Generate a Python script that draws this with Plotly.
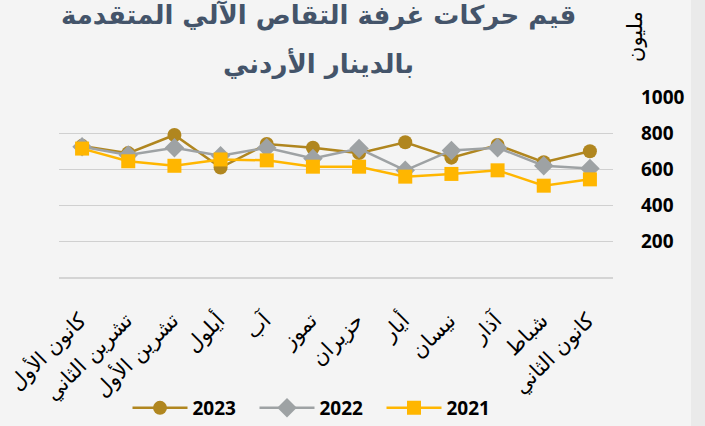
import plotly.graph_objects as go

# months Jan..Dec (axis drawn right-to-left)
months = ["كانون الثاني", "شباط", "آذار", "نيسان", "أيار", "حزيران",
          "تموز", "آب", "أيلول", "تشرين الأول", "تشرين الثاني", "كانون الأول"]

vals_2023 = [700, 640, 735, 665, 750, 690, 720, 740, 610, 790, 690, 730]
vals_2022 = [605, 620, 720, 705, 595, 715, 660, 720, 675, 720, 680, 725]
vals_2021 = [545, 510, 595, 575, 560, 615, 615, 650, 655, 620, 645, 715]

y_ticks = [200, 400, 600, 800, 1000]

FONT = "DejaVu Sans"
NUM_FONT = "Open Sans"

fig = go.Figure()
fig.add_trace(go.Scatter(
    x=months, y=vals_2023, name="2023", mode="lines+markers",
    line=dict(color="#B0861F", width=2.5),
    marker=dict(symbol="circle", size=14, color="#B0861F"),
))
fig.add_trace(go.Scatter(
    x=months, y=vals_2022, name="2022", mode="lines+markers",
    line=dict(color="#9EA2A4", width=2.5),
    marker=dict(symbol="diamond", size=15, color="#9EA2A4"),
))
fig.add_trace(go.Scatter(
    x=months, y=vals_2021, name="2021", mode="lines+markers",
    line=dict(color="#FFB600", width=2.5),
    marker=dict(symbol="square", size=14, color="#FFB600"),
))

fig.update_layout(
    width=705, height=426,
    margin=dict(l=59, r=92, t=97, b=148, autoexpand=False),
    paper_bgcolor="#F4F4F4", plot_bgcolor="#F4F4F4",
    font=dict(family=FONT, color="#000000"),
    showlegend=True,
    legend=dict(orientation="h", xref="container", yref="container",
                x=318 / 705, xanchor="center", y=1 - 408 / 426, yanchor="middle",
                font=dict(size=19, family=NUM_FONT, weight="bold"),
                entrywidth=57, itemwidth=55,
                traceorder="normal", bgcolor="rgba(0,0,0,0)"),
    shapes=[dict(type="rect", xref="paper", yref="paper",
                 x0=(691 - 59) / 554, x1=(705 - 59) / 554, y0=-1, y1=2,
                 fillcolor="#EAEAEA", line=dict(width=0), layer="below")],
    annotations=[
        dict(text="قيم حركات غرفة التقاص الآلي المتقدمة", xref="paper", yref="paper",
             x=(318 - 59) / 554, y=(278 - 15) / 181, xanchor="center", yanchor="middle",
             showarrow=False,
             font=dict(size=26, color="#44546A", family=FONT, weight="bold")),
        dict(text="بالدينار الأردني", xref="paper", yref="paper",
             x=(318 - 59) / 554, y=(278 - 63) / 181, xanchor="center", yanchor="middle",
             showarrow=False,
             font=dict(size=26, color="#44546A", family=FONT, weight="bold")),
        dict(text="مليون", xref="paper", yref="paper",
             x=(635 - 59) / 554, y=(278 - 37) / 181, xanchor="center", yanchor="middle",
             showarrow=False, textangle=-90,
             font=dict(size=21, color="#000000", family=FONT)),
    ],
)

fig.update_xaxes(
    range=[11.5, -0.5], tickangle=-45, showgrid=False, showline=False,
    ticks="", ticklabelstandoff=25, ticklabelshift=2, automargin=False,
    tickfont=dict(size=21, family=FONT, color="#000000"),
)
fig.update_yaxes(
    side="right", range=[0, 1000], tickvals=y_ticks, automargin=False,
    showgrid=True, gridcolor="#D0D0D0", gridwidth=1,
    zeroline=True, zerolinecolor="#D4D4D4", zerolinewidth=2,
    ticks="", ticklabelstandoff=27,
    tickfont=dict(size=19, family=NUM_FONT, color="#000000", weight="bold"),
)

fig.write_html("out.html", config={"displayModeBar": False},
               post_script="document.body.style.margin='0';")
